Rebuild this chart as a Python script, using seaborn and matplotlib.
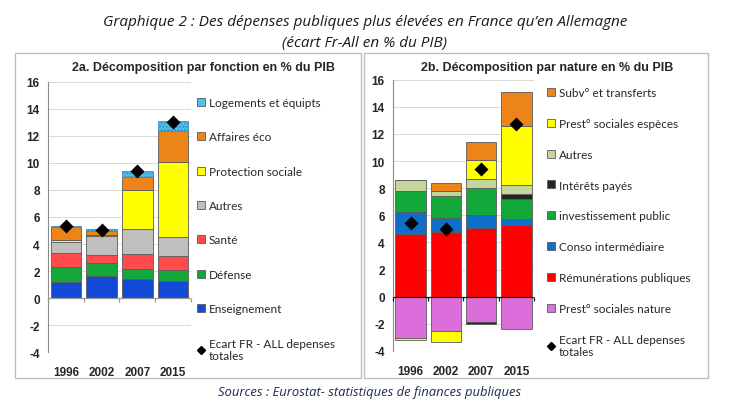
import numpy as np
import matplotlib
matplotlib.use("Agg")
import matplotlib.pyplot as plt
from matplotlib.lines import Line2D
from matplotlib.patches import Rectangle
import seaborn as sns

# ---- données ----
years = ['1996', '2002', '2007', '2015']

# 2a. par fonction (empilé de bas en haut)
enseignement = [1.20, 1.66, 1.41, 1.29]
defense = [1.12, 0.92, 0.74, 0.81]
sante = [1.02, 0.62, 1.12, 1.04]
autres_a = [0.80, 1.38, 1.85, 1.41]
protection = [0.15, 0.10, 2.88, 5.55]
affaires = [1.00, 0.25, 0.98, 2.23]
logements = [0.05, 0.20, 0.40, 0.74]
ecart_a = [5.3, 5.05, 9.4, 13.0]

labels_a = ['Enseignement', 'Défense', 'Santé', 'Autres', 'Protection sociale',
            'Affaires éco', 'Logements et équipts']
colors_a = ['#1249d6', '#14a83c', '#ff4b4b', '#bfbfbf', '#ffff00', '#ec8419', '#4cc2ef']

# 2b. par nature
nature = [-3.05, -2.50, -1.85, -2.35]
remun = [4.60, 4.80, 5.05, 5.28]
conso = [1.62, 0.98, 0.95, 0.47]
invest = [1.60, 1.62, 2.03, 1.43]
interets = [0.0, 0.0, -0.15, 0.40]
autres_b = [0.80, 0.42, 0.65, 0.68]
especes = [-0.17, -0.87, 1.43, 4.30]
subv = [0.0, 0.57, 1.33, 2.54]
ecart_b = [5.4, 5.0, 9.4, 12.7]

labels_b = ['Prest° sociales nature', 'Rémunérations publiques', 'Conso intermédiaire',
            'investissement public', 'Intérêts payés', 'Autres',
            'Prest° sociales espèces', 'Subv° et transferts']
colors_b = ['#dc6edc', '#ff0000', '#0e6ec8', '#12a83a', '#262626', '#c4d79b',
            '#ffff00', '#ec8419']

ecart_label = 'Ecart FR - ALL depenses\ntotales'

sns.set_style('white')
plt.rcParams['font.family'] = ['Liberation Sans', 'DejaVu Sans']
plt.rcParams['axes.unicode_minus'] = False

W, H = 730, 410
fig = plt.figure(figsize=(W / 100, H / 100), dpi=100)


def fx(px):
    return px / W


def fy(py):
    return 1 - py / H


def stacked(ax, series, colors, hatches=None):
    n = len(years)
    pos = np.zeros(n)
    neg = np.zeros(n)
    for i, (vals, col) in enumerate(zip(series, colors)):
        vals = np.asarray(vals, dtype=float)
        bottom = np.where(vals >= 0, pos, neg)
        hatch = hatches[i] if hatches else None
        sns.barplot(x=years, y=vals, order=years, bottom=bottom, color=col,
                    saturation=1, width=0.86, errorbar=None,
                    edgecolor='#5a5a5a' if not hatch else '#3a8cc4',
                    linewidth=0.6, hatch=hatch, ax=ax, zorder=2)
        pos += np.clip(vals, 0, None)
        neg += np.clip(vals, None, 0)


def style_axes(ax, zero_color):
    ax.set_ylim(-4, 16)
    ax.set_xlim(-0.5, len(years) - 0.5)
    ax.set_yticks(range(-4, 17, 2))
    ax.yaxis.grid(True, color='#d9d9d9', lw=0.7, zorder=0)
    ax.set_axisbelow(True)
    for s in ['top', 'right', 'bottom']:
        ax.spines[s].set_visible(False)
    ax.spines['left'].set_color('#8c8c8c')
    ax.spines['left'].set_linewidth(0.8)
    ax.tick_params(axis='y', length=3, color='#8c8c8c', width=0.8, pad=3,
                   labelsize=8.5)
    ax.tick_params(axis='x', length=0, pad=10, labelsize=8.5)
    for t in ax.get_xticklabels() + ax.get_yticklabels():
        t.set_fontweight('bold')
    ax.set_xlabel('')
    ax.set_ylabel('')
    # ligne du zéro avec graduations entre catégories
    ax.axhline(0, color=zero_color, lw=0.9, zorder=3)
    bounds = np.arange(len(years) + 1) - 0.5
    ax.plot(bounds, np.zeros_like(bounds), ls='none', marker=3, ms=3,
            mew=0.9, color=zero_color, zorder=3, clip_on=False)


# ---- cadres ----
for x0, x1 in [(15, 361), (364, 708)]:
    fig.patches.append(Rectangle((fx(x0), fy(379)), fx(x1) - fx(x0), fy(54) - fy(379),
                                 transform=fig.transFigure, fill=False,
                                 edgecolor='#bdbdbd', lw=1.0))

# ---- 2a ----
ax1 = fig.add_axes([fx(48), fy(353.3), fx(191) - fx(48), fy(82.7) - fy(353.3)])
stacked(ax1, [enseignement, defense, sante, autres_a, protection, affaires, logements],
        colors_a, hatches=[None] * 6 + ['.....'])
sns.pointplot(x=years, y=ecart_a, order=years, color='black', markers='D',
              linestyles='none', markersize=5.5, errorbar=None, ax=ax1, zorder=5)
style_axes(ax1, '#9a9a9a')

# ---- 2b ----
ax2 = fig.add_axes([fx(393), fy(352), fx(534) - fx(393), fy(80.7) - fy(352)])
stacked(ax2, [nature, remun, conso, invest, interets, autres_b, especes, subv], colors_b)
sns.pointplot(x=years, y=ecart_b, order=years, color='black', markers='D',
              linestyles='none', markersize=5.5, errorbar=None, ax=ax2, zorder=5)
style_axes(ax2, '#1a1a1a')

# ---- légendes ----
def legend_handles(labels, colors):
    hs = []
    for lab, col in zip(labels, colors):
        hs.append(Line2D([], [], ls='none', marker='s', ms=6, mfc=col,
                         mec='#5a5a5a', mew=0.6, label=lab))
    hs = hs[::-1]
    hs.append(Line2D([], [], ls='none', marker='D', ms=4, color='black',
                     label=ecart_label))
    return hs


leg_font = {'family': ['Lato', 'DejaVu Sans'], 'size': 8.5}
fig.legend(handles=legend_handles(labels_a, colors_a), loc='upper left',
           bbox_to_anchor=(fx(196), fy(98)), frameon=False, prop=leg_font,
           handlelength=0.8, handletextpad=0.3, labelspacing=1.98,
           borderpad=0, borderaxespad=0)
fig.legend(handles=legend_handles(labels_b, colors_b), loc='upper left',
           bbox_to_anchor=(fx(546), fy(88)), frameon=False, prop=leg_font,
           handlelength=0.8, handletextpad=0.3, labelspacing=1.68,
           borderpad=0, borderaxespad=0)

# ---- titres ----
fig.text(fx(204), fy(68), '2a. Décomposition par fonction en % du PIB',
         ha='center', va='center', fontsize=9, fontweight='bold')
fig.text(fx(547), fy(68), '2b. Décomposition par nature en % du PIB',
         ha='center', va='center', fontsize=9, fontweight='bold')

title_font = ['Open Sans', 'DejaVu Sans']
fig.text(fx(365), fy(22),
         'Graphique 2 : Des dépenses publiques plus élevées en France qu\u2019en Allemagne',
         ha='center', va='center', fontsize=11, style='italic',
         family=title_font, color='#1a1a1a')
fig.text(fx(364), fy(43), '(écart Fr-All en % du PIB)', ha='center', va='center',
         fontsize=11, style='italic', family=title_font, color='#1a1a1a')
fig.text(fx(370), fy(393), 'Sources : Eurostat- statistiques de finances publiques',
         ha='center', va='center', fontsize=9.4, style='italic',
         family=title_font, color='#1c2a4e')

fig.savefig('out.png', dpi=100)
